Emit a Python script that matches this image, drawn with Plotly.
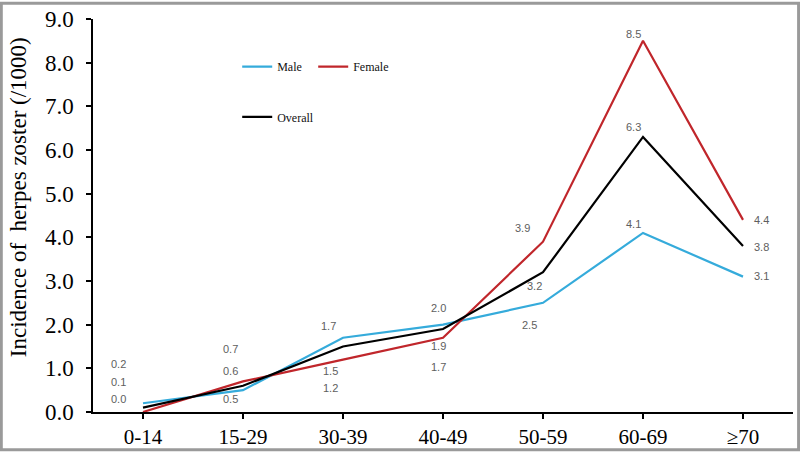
import plotly.graph_objects as go

categories = ["0-14", "15-29", "30-39", "40-49", "50-59", "60-69", "≥70"]
male = [0.2, 0.5, 1.7, 2.0, 2.5, 4.1, 3.1]
female = [0.0, 0.7, 1.2, 1.7, 3.9, 8.5, 4.4]
overall = [0.1, 0.6, 1.5, 1.9, 3.2, 6.3, 3.8]

y_ticks = [i * 1.0 for i in range(10)]

# label positions (x as category index, y in data units)
label_text = ["0.2", "0.1", "0.0",
              "0.7", "0.6", "0.5",
              "1.7", "1.5", "1.2",
              "2.0", "1.9", "1.7",
              "3.9", "3.2", "2.5",
              "8.5", "6.3", "4.1",
              "4.4", "3.8", "3.1"]
label_x = [-0.25, -0.25, -0.25,
           0.87, 0.87, 0.87,
           1.85, 1.87, 1.87,
           2.95, 2.95, 2.95,
           3.79, 3.91, 3.86,
           4.90, 4.90, 4.90,
           6.18, 6.18, 6.18]
label_y = [1.11, 0.68, 0.29,
           1.45, 0.95, 0.29,
           1.97, 0.95, 0.54,
           2.38, 1.52, 1.04,
           4.22, 2.88, 2.00,
           8.66, 6.53, 4.31,
           4.40, 3.79, 3.11]

xs = list(range(len(categories)))

fig = go.Figure()
fig.add_trace(go.Scatter(x=xs, y=male, mode="lines", name="Male",
                         line=dict(color="#35abdb", width=2.2), legend="legend"))
fig.add_trace(go.Scatter(x=xs, y=female, mode="lines", name="Female",
                         line=dict(color="#c0262b", width=2.2), legend="legend"))
fig.add_trace(go.Scatter(x=xs, y=overall, mode="lines", name="Overall",
                         line=dict(color="#000000", width=2.2), legend="legend2"))

for t, x, y in zip(label_text, label_x, label_y):
    fig.add_annotation(x=x, y=y, text=t, showarrow=False, xref="x", yref="y",
                       font=dict(family="Liberation Sans", size=11, color="#5e5e5e"))

# y-axis title placed as in the reference (shifted upward)
fig.add_annotation(xref="paper", yref="paper", x=(18 - 93) / 700, y=(414 - 197) / 397,
                   text="Incidence of  herpes zoster (/1000)", textangle=-90,
                   showarrow=False, xanchor="center", yanchor="middle",
                   font=dict(family="Liberation Serif", size=23, color="#000"))

fig.add_shape(type="rect", xref="paper", yref="paper",
              x0=-0.131, x1=1.008, y0=-0.096, y1=1.04,
              line=dict(color="#9a9a9a", width=3), fillcolor="rgba(0,0,0,0)")

fig.update_layout(
    width=800, height=456,
    margin=dict(l=93, r=7, t=17, b=42),
    plot_bgcolor="white", paper_bgcolor="white",
    font=dict(family="Liberation Serif", color="#000"),
    legend=dict(orientation="h", x=0.206, y=0.879, xanchor="left", yanchor="middle",
                bgcolor="rgba(0,0,0,0)", font=dict(family="Liberation Serif", size=12, color="#111"),
                itemwidth=30, entrywidth=31),
    legend2=dict(orientation="h", x=0.206, y=0.751, xanchor="left", yanchor="middle",
                 bgcolor="rgba(0,0,0,0)", font=dict(family="Liberation Serif", size=12, color="#111"),
                 itemwidth=30),
    xaxis=dict(range=[-0.5, 6.5], tickmode="array", tickvals=xs, ticktext=categories,
               showline=True, linecolor="#000", linewidth=1.5, ticks="outside",
               tickson="boundaries", ticklen=5, tickcolor="#000", tickwidth=1.5,
               showgrid=False, zeroline=False,
               tickfont=dict(family="Liberation Serif", size=21, color="#000")),
    yaxis=dict(range=[0, 9], tickvals=y_ticks, tickformat=".1f",
               showline=True, linecolor="#000", linewidth=1.5, ticks="outside",
               ticklen=5, tickcolor="#000", tickwidth=1.5, ticklabelstandoff=8,
               showgrid=False, zeroline=False,
               tickfont=dict(family="Liberation Serif", size=23, color="#000")),
)

fig.write_html("out.html", config={"displayModeBar": False},
               post_script="document.body.style.margin='0';document.body.style.overflow='hidden';")
